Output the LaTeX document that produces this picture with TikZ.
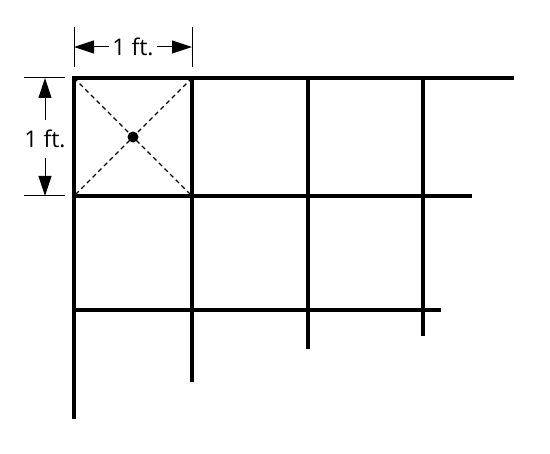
\documentclass[tikz,border=0pt]{standalone}
\usepackage{fontspec}
\setmainfont{Open Sans}
\usetikzlibrary{arrows.meta}
\begin{document}
\begin{tikzpicture}[x=1pt, y=-1pt,
    grid/.style = {line width=4pt},
    diag/.style = {line width=1.2pt, dash pattern=on 4.5pt off 3.5pt},
    dim/.style = {line width=1pt},
    dimarrow/.style = {dim, -{Triangle[length=20pt,width=13pt]}},
    dimtext/.style = {font=\fontsize{23}{28}\selectfont, inner xsep=3pt}]
  \useasboundingbox (0,0) rectangle (550,454);
  % grid crossings
  \foreach \i/\x in {0/74,1/192,2/308,3/423}
    \foreach \j/\y in {0/78,1/196,2/310}
      \coordinate (p\i\j) at (\x,\y);
  % free ends of the lines
  \coordinate (h0) at (514,78);
  \coordinate (h1) at (472,196);
  \coordinate (h2) at (441,310);
  \coordinate (v0) at (74,419);
  \coordinate (v1) at (192,382);
  \coordinate (v2) at (308,349);
  \coordinate (v3) at (423,336);
  \draw[grid] (v0) -- (p00) -- (h0);
  \draw[grid] (p01) -- (h1);
  \draw[grid] (p02) -- (h2);
  \draw[grid] (p10) -- (v1);
  \draw[grid] (p20) -- (v2);
  \draw[grid] (p30) -- (v3);
  % the first square
  \draw[diag] (p00) -- (p11);
  \draw[diag] (p10) -- (p01);
  \node[circle, fill, inner sep=0pt, minimum size=11pt] (dot) at (133,137) {};
  % width
  \coordinate (wa) at (74,27);
  \coordinate (wb) at (74,67);
  \coordinate (wc) at (192,27);
  \coordinate (wd) at (192,67);
  \coordinate (wl) at (74,47);
  \coordinate (wr) at (192,47);
  \draw[dim] (wa) -- (wb);
  \draw[dim] (wc) -- (wd);
  \node[dimtext, inner ysep=3pt] (wlbl) at (133,47) {1 ft.};
  \draw[dimarrow] (wlbl) -- (wl);
  \draw[dimarrow] (wlbl) -- (wr);
  % height
  \coordinate (ha) at (24,78);
  \coordinate (hb) at (65,78);
  \coordinate (hc) at (24,196);
  \coordinate (hd) at (65,196);
  \coordinate (ht) at (45,78);
  \coordinate (hm) at (45,196);
  \draw[dim] (ha) -- (hb);
  \draw[dim] (hc) -- (hd);
  \node[dimtext, inner ysep=10pt] (hlbl) at (45,139) {1 ft.};
  \draw[dimarrow] (hlbl) -- (ht);
  \draw[dimarrow] (hlbl) -- (hm);
\end{tikzpicture}
\end{document}
